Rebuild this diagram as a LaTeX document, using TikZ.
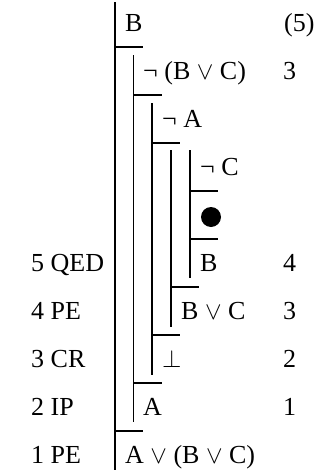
\documentclass[tikz,border=0pt]{standalone}
\usepackage{fontspec}
\setmainfont{Liberation Serif}

\begin{document}
\begin{tikzpicture}[x=1pt, y=-1pt, font=\fontsize{26}{31}\selectfont]

% Styles
\tikzset{
  formula/.style={
    anchor=base west,
    inner sep=0pt
  },
  rulelabel/.style={
    anchor=base west,
    inner sep=0pt
  },
  refno/.style={
    anchor=base west,
    inner sep=0pt
  },
  scopeline/.style={
    line width=1.8pt
  },
  bar/.style={
    line width=1.8pt
  }
}

\useasboundingbox (0,0) rectangle (329,474);

% Scope lines
\draw[scopeline] (115,2) -- (115,470);
\draw[scopeline] (133.5,55) -- (133.5,422);
\draw[scopeline] (152,103) -- (152,375);
\draw[scopeline] (171,150) -- (171,327);
\draw[scopeline] (190,150) -- (190,278);

% Bars
\draw[bar] (115,47) -- ++(28,0);
\draw[bar] (133.5,95) -- ++(28,0);
\draw[bar] (152,143) -- ++(28,0);
\draw[bar] (190,191) -- ++(28,0);
\draw[bar] (190,239) -- ++(28,0);
\draw[bar] (171,287) -- ++(28,0);
\draw[bar] (152,335) -- ++(28,0);
\draw[bar] (133.5,383) -- ++(28,0);
\draw[bar] (115,431) -- ++(28,0);

% Formulas
\node[formula] (f1) at (125,31) {B};
\node[formula] (f2) at (143,79) {¬ (B $\vee$ C)};
\node[formula] (f3) at (162,127) {¬ A};
\node[formula] (f4) at (200,175) {¬ C};
\node[circle, fill, inner sep=0pt, minimum size=20pt] (f5) at (211,217) {};
\node[formula] (f6) at (200,271) {B};
\node[formula] (f7) at (181,319) {B $\vee$ C};
\node[formula] (f8) at (162,367) {$\bot$};
\node[formula] (f9) at (143,415) {A};
\node[formula] (f10) at (125,463) {A $\vee$ (B $\vee$ C)};

% Rule labels
\node[rulelabel] (r6) at (31,271) {5 QED};
\node[rulelabel] (r7) at (31,319) {4 PE};
\node[rulelabel] (r8) at (31,367) {3 CR};
\node[rulelabel] (r9) at (31,415) {2 IP};
\node[rulelabel] (r10) at (31,463) {1 PE};

% Reference numbers
\node[refno] (n1) at (284,31) {(5)};
\node[refno] (n2) at (283,79) {3};
\node[refno] (n6) at (283,271) {4};
\node[refno] (n7) at (283,319) {3};
\node[refno] (n8) at (283,367) {2};
\node[refno] (n9) at (283,415) {1};

\end{tikzpicture}
\end{document}
